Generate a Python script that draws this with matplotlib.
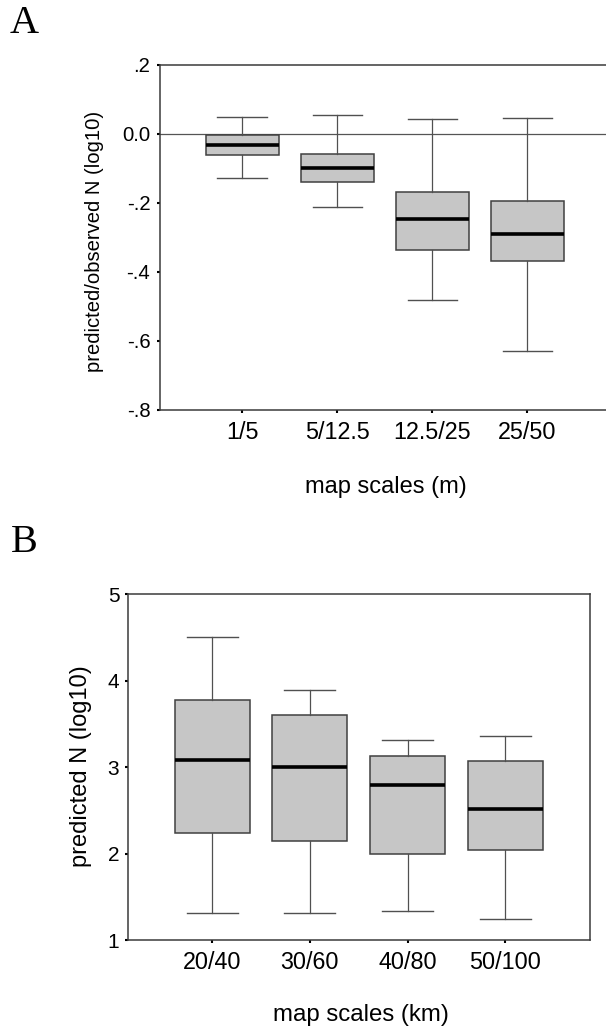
import matplotlib
matplotlib.use("Agg")
import matplotlib.pyplot as plt

# ---------------- data ----------------
cats_a = ["1/5", "5/12.5", "12.5/25", "25/50"]
a_whislo = [-0.128, -0.213, -0.481, -0.629]
a_q1 = [-0.061, -0.140, -0.338, -0.369]
a_med = [-0.031, -0.098, -0.247, -0.290]
a_q3 = [-0.002, -0.058, -0.168, -0.195]
a_whishi = [0.049, 0.055, 0.043, 0.047]
a_yticks = [0.2, 0.0, -0.2, -0.4, -0.6, -0.8]
a_yticklabels = [".2", "0.0", "-.2", "-.4", "-.6", "-.8"]

cats_b = ["20/40", "30/60", "40/80", "50/100"]
b_whislo = [1.32, 1.32, 1.34, 1.25]
b_q1 = [2.24, 2.15, 2.00, 2.04]
b_med = [3.08, 3.00, 2.79, 2.52]
b_q3 = [3.78, 3.60, 3.13, 3.07]
b_whishi = [4.51, 3.89, 3.31, 3.36]
b_yticks = [1, 2, 3, 4, 5]
b_yticklabels = ["1", "2", "3", "4", "5"]

W, H = 606, 1029
fig = plt.figure(figsize=(W / 100, H / 100), dpi=100)

SANS = ["Liberation Sans", "DejaVu Sans"]
SERIF = ["Liberation Serif", "DejaVu Serif"]
SPINE = "#3a3a3a"
FILL = "#c6c6c6"


def px_axes(l, t, r, b):
    return fig.add_axes([l / W, 1 - b / H, (r - l) / W, (b - t) / H])


def make_stats(lo, q1, med, q3, hi):
    return [dict(whislo=a, q1=b, med=c, q3=d, whishi=e, fliers=[])
            for a, b, c, d, e in zip(lo, q1, med, q3, hi)]


def draw_box(ax, stats):
    ax.bxp(stats, positions=[1, 2, 3, 4], widths=0.77, patch_artist=True,
           showfliers=False,
           boxprops=dict(facecolor=FILL, edgecolor="#404040", linewidth=1.1),
           medianprops=dict(color="black", linewidth=2.6),
           whiskerprops=dict(color="#505050", linewidth=0.9),
           capprops=dict(color="#505050", linewidth=1.0),
           capwidths=0.52)


def style(ax):
    for s in ax.spines.values():
        s.set_color(SPINE)
        s.set_linewidth(1.1)
    ax.tick_params(axis="both", direction="out", length=2, width=1.5,
                   color="black")
    ax.set_xlim(0.135, 4.865)


# ---------------- panel A ----------------
axA = px_axes(160, 65, 609.5, 409.5)
axA.axhline(0.0, color="#555555", linewidth=0.9, zorder=0)
draw_box(axA, make_stats(a_whislo, a_q1, a_med, a_q3, a_whishi))
style(axA)
axA.spines["right"].set_visible(False)
axA.set_ylim(-0.8, 0.2)
axA.set_yticks(a_yticks)
axA.set_yticklabels(a_yticklabels, fontsize=14.6, family=SANS)
axA.set_xticks([1, 2, 3, 4])
axA.set_xticklabels(cats_a, fontsize=16.8, family=SANS)
axA.tick_params(axis="y", pad=5)
axA.tick_params(axis="x", pad=6)

fig.text(95 / W, 1 - 241 / H, "predicted/observed N (log10)", rotation=90,
         ha="center", va="center", fontsize=14.6, family=SANS)
fig.text(386 / W, 1 - 487 / H, "map scales (m)", ha="center", va="center",
         fontsize=17, family=SANS)
fig.text(10 / W, 1 - 33 / H, "A", ha="left", va="baseline", fontsize=29,
         family=SERIF)

# ---------------- panel B ----------------
axB = px_axes(127.7, 594.3, 589.7, 940.3)
draw_box(axB, make_stats(b_whislo, b_q1, b_med, b_q3, b_whishi))
style(axB)
axB.set_ylim(1, 5)
axB.set_yticks(b_yticks)
axB.set_yticklabels(b_yticklabels, fontsize=15, family=SANS)
axB.set_xticks([1, 2, 3, 4])
axB.set_xticklabels(cats_b, fontsize=16.8, family=SANS)
axB.tick_params(axis="y", pad=4)
axB.tick_params(axis="x", pad=6)

fig.text(81 / W, 1 - 766.5 / H, "predicted N (log10)", rotation=90,
         ha="center", va="center", fontsize=17, family=SANS)
fig.text(360.5 / W, 1 - 1015 / H, "map scales (km)", ha="center",
         va="center", fontsize=17.3, family=SANS)
fig.text(11 / W, 1 - 552 / H, "B", ha="left", va="baseline", fontsize=29,
         family=SERIF)

fig.savefig("out.png", dpi=100)
